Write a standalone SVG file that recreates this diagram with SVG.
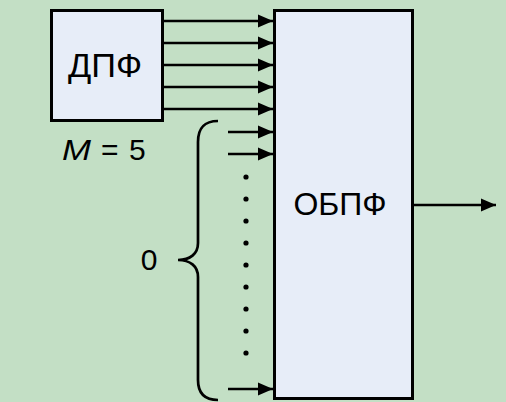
<svg xmlns="http://www.w3.org/2000/svg" width="506" height="402" viewBox="0 0 506 402">
<defs>
<marker id="ah" markerUnits="userSpaceOnUse" markerWidth="16" markerHeight="14" refX="15" refY="7" orient="auto">
<path d="M0,0.5 L15,7 L0,13.5 Z" fill="#000"/>
</marker>
<style>
.box{fill:#E7EDF8;stroke:#000;stroke-width:3}
.ln{stroke:#000;stroke-width:2.7;fill:none}
.t{font-family:"Liberation Sans",Arial,sans-serif;fill:#000}
</style>
</defs>
<rect width="506" height="402" fill="#C3DFC5"/>
<g id="dpf">
<rect class="box" x="51.5" y="10.5" width="111" height="110"/>
<text class="t" x="68" y="77" font-size="33" textLength="74" lengthAdjust="spacingAndGlyphs">ДПФ</text>
</g>
<g id="obpf">
<rect class="box" x="274.5" y="10.5" width="138" height="388"/>
<text class="t" x="340" y="215" font-size="32" text-anchor="middle">ОБПФ</text>
</g>
<g id="labels">
<text class="t" x="62" y="160" font-size="30" font-style="italic" textLength="29" lengthAdjust="spacingAndGlyphs">M</text>
<text class="t" y="160" font-size="30"><tspan x="101">=</tspan><tspan x="129">5</tspan></text>
<text class="t" x="149" y="270" font-size="30" text-anchor="middle">0</text>
</g>
<g id="connectors">
<line class="ln" x1="163" y1="21" x2="273" y2="21" marker-end="url(#ah)"/>
<line class="ln" x1="163" y1="43" x2="273" y2="43" marker-end="url(#ah)"/>
<line class="ln" x1="163" y1="65" x2="273" y2="65" marker-end="url(#ah)"/>
<line class="ln" x1="163" y1="87" x2="273" y2="87" marker-end="url(#ah)"/>
<line class="ln" x1="163" y1="109" x2="273" y2="109" marker-end="url(#ah)"/>
<line class="ln" x1="228" y1="132" x2="273" y2="132" marker-end="url(#ah)"/>
<line class="ln" x1="228" y1="154" x2="273" y2="154" marker-end="url(#ah)"/>
<line class="ln" x1="228" y1="389" x2="273" y2="389" marker-end="url(#ah)"/>
<line class="ln" x1="413" y1="205" x2="496" y2="205" marker-end="url(#ah)"/>
<path class="ln" d="M218,121 C204,121 198,128 198,142 L198,243 C198,254 190,260 178,260 C190,260 198,266 198,277 L198,380 C198,393 204,400 218,400"/>
<g fill="#000">
<circle cx="246" cy="177" r="2.6"/>
<circle cx="246" cy="199" r="2.6"/>
<circle cx="246" cy="221" r="2.6"/>
<circle cx="246" cy="243" r="2.6"/>
<circle cx="246" cy="265" r="2.6"/>
<circle cx="246" cy="287" r="2.6"/>
<circle cx="246" cy="309" r="2.6"/>
<circle cx="246" cy="331" r="2.6"/>
<circle cx="246" cy="353" r="2.6"/>
</g>
</g>
</svg>
